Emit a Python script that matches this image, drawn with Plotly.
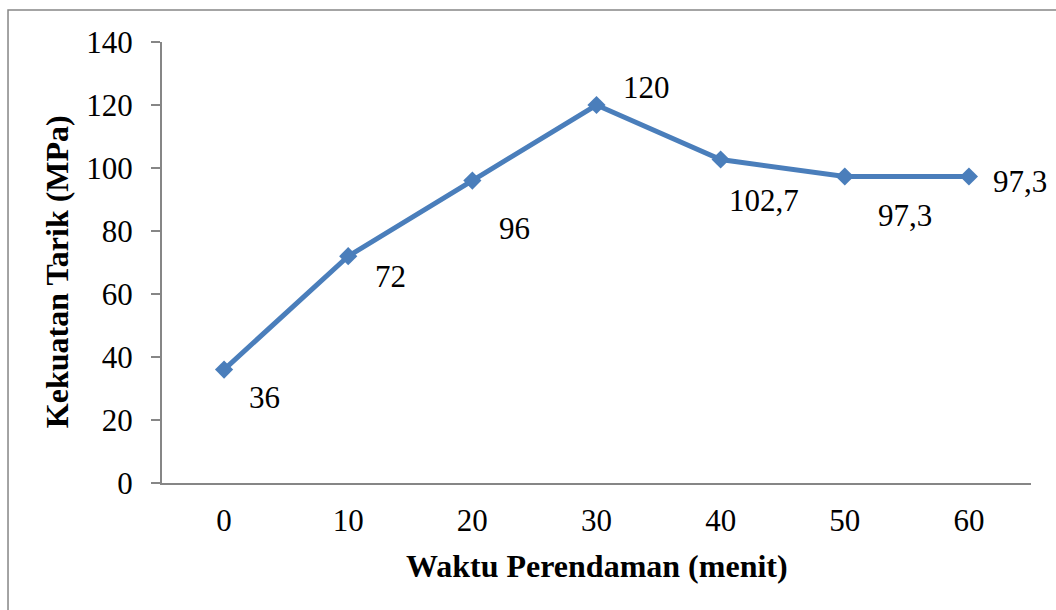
import plotly.graph_objects as go

# Data
waktu = ["0", "10", "20", "30", "40", "50", "60"]
kekuatan = [36, 72, 96, 120, 102.7, 97.3, 97.3]
label_teks = ["36", "72", "96", "120", "102,7", "97,3", "97,3"]
# label offsets in px (dx, dy) relative to each point
label_geser = [(40, -28), (42, -20), (42, -48), (50, 18), (43, -41), (60, -39), (51, -5)]

LINE_COLOR = "#4A7EBB"
AXIS_COLOR = "#868686"
FONT = "Liberation Serif"
FS = 31

fig = go.Figure()
fig.add_trace(go.Scatter(
    x=waktu,
    y=kekuatan,
    mode="lines+markers",
    line=dict(color=LINE_COLOR, width=5),
    marker=dict(symbol="diamond", size=14, color=LINE_COLOR),
    showlegend=False,
    hoverinfo="skip",
))

annotations = []
for i, (yv, txt, (dx, dy)) in enumerate(zip(kekuatan, label_teks, label_geser)):
    annotations.append(dict(
        x=i, y=yv, xref="x", yref="y", text=txt, showarrow=False,
        xshift=dx, yshift=dy, font=dict(family=FONT, size=FS, color="black"),
    ))

# axis titles
annotations.append(dict(
    x=0.5, y=-0.188, xref="paper", yref="paper", xanchor="center", yanchor="middle",
    text="<b>Waktu Perendaman (menit)</b>", showarrow=False,
    font=dict(family=FONT, size=32, color="black"),
))
annotations.append(dict(
    x=-0.121, y=0.48, xref="paper", yref="paper", xanchor="center", yanchor="middle",
    text="<b>Kekuatan Tarik (MPa)</b>", textangle=-90, showarrow=False,
    font=dict(family=FONT, size=32, color="black"),
))

fig.update_layout(
    width=1056,
    height=610,
    margin=dict(l=162, r=25, t=42, b=127),
    paper_bgcolor="white",
    plot_bgcolor="white",
    font=dict(family=FONT, size=FS, color="black"),
    annotations=annotations,
    shapes=[dict(
        type="rect", xref="paper", yref="paper",
        x0=-0.1772, x1=1.05, y0=-0.31, y1=1.0726,
        line=dict(color=AXIS_COLOR, width=1.5),
    )],
    xaxis=dict(
        type="category",
        range=[-0.5, 6.5],
        showline=True, linecolor=AXIS_COLOR, linewidth=2,
        ticks="", showgrid=False, zeroline=False,
        ticklabelstandoff=9,
        tickfont=dict(family=FONT, size=FS, color="black"),
    ),
    yaxis=dict(
        range=[0, 140], dtick=20,
        showline=True, linecolor=AXIS_COLOR, linewidth=2,
        ticks="outside", ticklen=9, tickcolor=AXIS_COLOR, tickwidth=1.5,
        showgrid=False, zeroline=False,
        ticklabelstandoff=12,
        tickfont=dict(family=FONT, size=FS, color="black"),
    ),
)

fig.write_html("out.html", config={"displayModeBar": False},
               post_script="document.body.style.margin='0';")
